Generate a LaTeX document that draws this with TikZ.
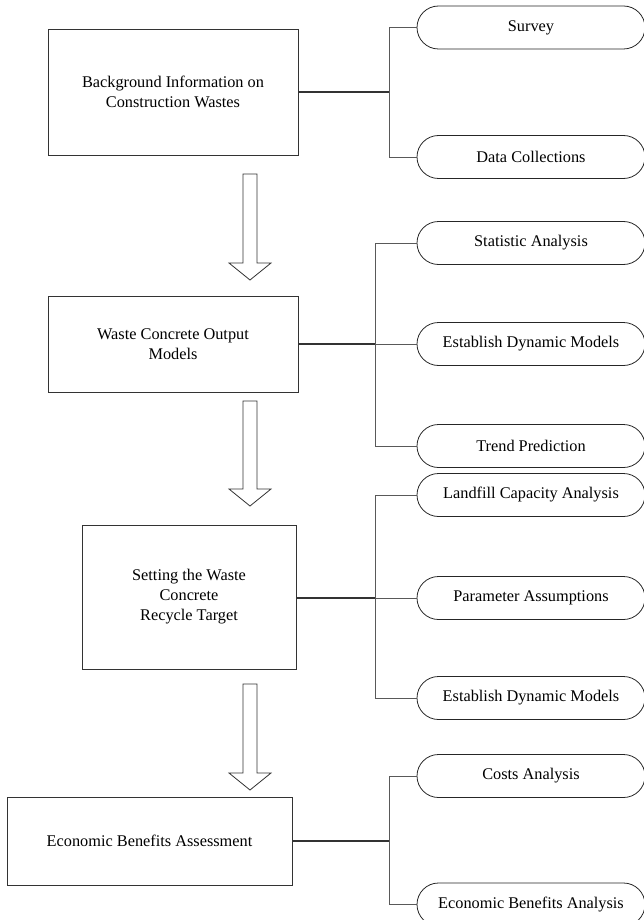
\documentclass[tikz,border=0pt]{standalone}
\usepackage{fontspec}
\setmainfont{Liberation Serif}
\usetikzlibrary{calc}

% hollow block arrow from the top of its shaft (#1) to its tip (#2)
\newcommand{\blockarrow}[2]{%
  \draw[hollow] ($(#1)+(-7,0)$) -- ($(#1)+(7,0)$) -- ($(#2)+(7,-17)$)
    -- ($(#2)+(21,-17)$) -- (#2) -- ($(#2)+(-21,-17)$) -- ($(#2)+(-7,-17)$) -- cycle;}

\begin{document}
\begin{tikzpicture}[x=1pt, y=-1pt,
    every node/.style={font=\fontsize{16.3}{20}\selectfont, align=center, text=black},
    stage/.style={draw=black!80, line width=0.9pt, inner sep=0pt},
    task/.style={draw=black!85, line width=0.8pt, rounded corners=21.5pt,
      minimum width=228pt, minimum height=43pt, inner sep=0pt},
    link/.style={line width=1.5pt, black!80},
    branch/.style={line width=0.7pt, black!65},
    hollow/.style={draw=black!80, line width=0.8pt, fill=white}]
    \useasboundingbox (0,0) rectangle (643,920);

    % Stages
    \node[stage, minimum width=250pt, minimum height=126pt] (bg) at (173,92) {Background Information on\\Construction Wastes};
    \node[stage, minimum width=250pt, minimum height=96pt] (output) at (173,344) {Waste Concrete Output\\Models};
    \node[stage, minimum width=214pt, minimum height=144pt] (target) at (189,597) {Setting the Waste\\Concrete\\Recycle Target};
    \node[stage, minimum width=285pt, minimum height=88pt] (benefit) at (149.5,841) {Economic Benefits Assessment};

    % Tasks
    \node[task] (survey) at (531,27.5) {Survey};
    \node[task] (data) at (531,157) {Data Collections};
    \node[task] (stat) at (531,243) {Statistic Analysis};
    \node[task] (model1) at (531,344) {Establish Dynamic Models};
    \node[task] (trend) at (531,446) {Trend Prediction};
    \node[task] (landfill) at (531,495) {Landfill Capacity Analysis};
    \node[task] (param) at (531,598) {Parameter Assumptions};
    \node[task] (model2) at (531,698) {Establish Dynamic Models};
    \node[task] (cost) at (531,776) {Costs Analysis};
    \node[task] (econ) at (531,904.5) {Economic Benefits Analysis};

    % Junctions
    \coordinate (j1) at (389,92);
    \coordinate (j2) at (375,344);
    \coordinate (j3) at (375,598);
    \coordinate (j4) at (389,841);

    % Links to the tasks
    \draw[link] (bg.east |- j1) -- (j1);
    \draw[branch] (j1) |- (survey.west);
    \draw[branch] (j1) |- (data.west);

    \draw[link] (output.east |- j2) -- (j2);
    \draw[branch] (j2) |- (stat.west);
    \draw[branch] (j2) -- (model1.west);
    \draw[branch] (j2) |- (trend.west);

    \draw[link] (target.east |- j3) -- (j3);
    \draw[branch] (j3) |- (landfill.west);
    \draw[branch] (j3) -- (param.west);
    \draw[branch] (j3) |- (model2.west);

    \draw[link] (benefit.east |- j4) -- (j4);
    \draw[branch] (j4) |- (cost.west);
    \draw[branch] (j4) |- (econ.west);

    % Block arrows between the stages
    \coordinate (a1) at (250,174);
    \coordinate (t1) at (250,280);
    \coordinate (a2) at (250,401);
    \coordinate (t2) at (250,506);
    \coordinate (a3) at (250,684);
    \coordinate (t3) at (250,790);
    \blockarrow{a1}{t1}
    \blockarrow{a2}{t2}
    \blockarrow{a3}{t3}
\end{tikzpicture}
\end{document}
